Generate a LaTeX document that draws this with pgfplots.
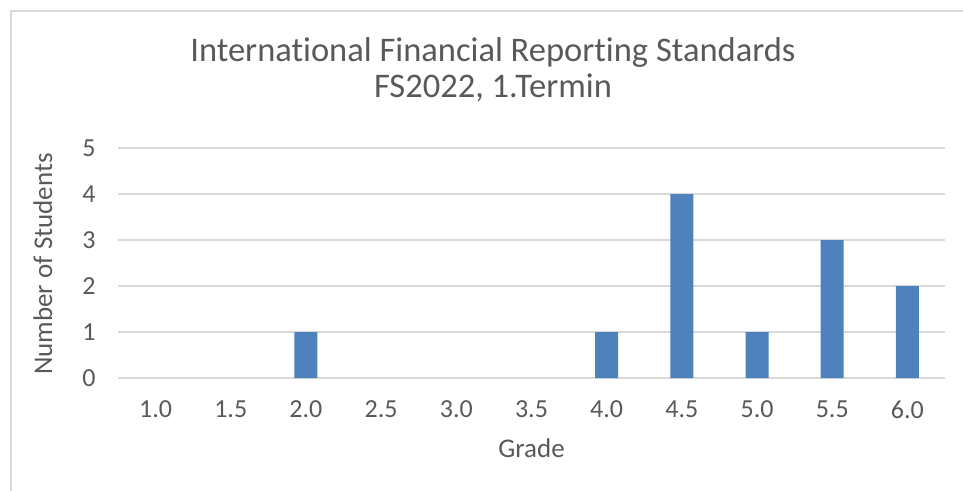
\documentclass[border=0pt]{standalone}
\usepackage{fontspec}
\setmainfont{Carlito}[RawFeature={-liga;-clig;-calt;-dlig}]
\usepackage{pgfplots}
\pgfplotsset{compat=1.18}
\definecolor{txtc}{HTML}{595959}
\definecolor{gridc}{HTML}{D9D9D9}
\definecolor{barc}{HTML}{4F81BD}
\begin{document}
\begin{tikzpicture}[x=1pt,y=1pt]
\path[use as bounding box] (0,0) rectangle (963,490);
\draw[gridc, line width=1.5pt] (11,-20) -- (11,479) -- (990,479);
\begin{axis}[
  at={(118pt,112pt)}, anchor=south west,
  scale only axis, width=827pt, height=230pt,
  xmin=-0.5, xmax=10.5, ymin=0, ymax=5,
  axis line style={draw=none},
  xtick={0,1,2,3,4,5,6,7,8,9,10},
  xticklabels={1.0,1.5,2.0,2.5,3.0,3.5,4.0,4.5,5.0,5.5,6.0},
  ytick={0,1,2,3,4,5},
  xmajorgrids=false,
  ymajorgrids=true,
  major grid style={draw=gridc, line width=1.4pt},
  major tick length=0pt,
  tick label style={font=\fontsize{26}{30}\selectfont, text=txtc},
  /pgf/number format/assume math mode=true,
  xticklabel style={yshift=-19pt},
  yticklabel style={xshift=-19pt},
  clip=false,
]
% grades 1.0,1.5,2.5,3.0,3.5 have 0 students
\addplot[ybar, bar width=23pt, fill=barc, draw=none] coordinates {
(2,1) (6,1) (7,4) (8,1) (9,3) (10,2)
};
\end{axis}
\node[text=txtc, font=\fontsize{34.5}{40}\selectfont, anchor=base] at (493,428) {International Financial Report\kern0pt ing Standards};
\node[text=txtc, font=\fontsize{34.5}{40}\selectfont, anchor=base] at (493,392) {FS2022, 1.Termin};
\node[text=txtc, font=\fontsize{27}{32}\selectfont, anchor=base] at (531.5,33) {Grade};
\node[text=txtc, font=\fontsize{27}{32}\selectfont, rotate=90, anchor=base] at (52,226) {Number of Students};
\end{tikzpicture}
\end{document}
